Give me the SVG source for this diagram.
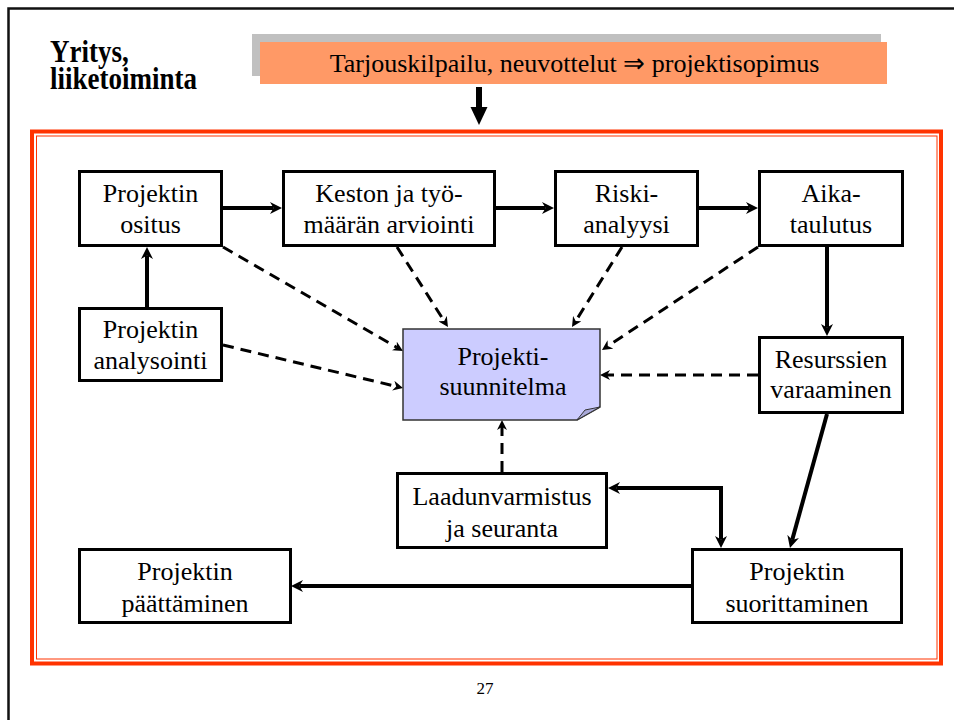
<svg xmlns="http://www.w3.org/2000/svg" width="954" height="720" viewBox="0 0 954 720">
  <style>
    .serif { font-family: "Liberation Serif", "Times New Roman", serif; }
    .box { fill: #ffffff; stroke: #000000; stroke-width: 3; }
    .lbl { font-family: "Liberation Serif", "Times New Roman", serif; font-size: 26px; fill: #000000; text-anchor: middle; }
    .solid { fill: none; stroke: #000000; stroke-width: 4; }
    .dash { fill: none; stroke: #000000; stroke-width: 3; stroke-dasharray: 11 7; }
  </style>
  <defs>
    <marker id="headSolid" viewBox="0 0 10 10" refX="3" refY="5" markerWidth="12" markerHeight="12" markerUnits="userSpaceOnUse" orient="auto-start-reverse">
      <path d="M0,0 L10,5 L0,10 L3,5 Z" fill="#000000"/>
    </marker>
    <marker id="headDash" viewBox="0 0 10 10" refX="3" refY="5" markerWidth="10" markerHeight="10" markerUnits="userSpaceOnUse" orient="auto">
      <path d="M0,0 L10,5 L0,10 L3,5 Z" fill="#000000"/>
    </marker>
  </defs>

  <rect width="954" height="720" fill="#ffffff"/>

  <!-- slide frame (top and left edges) -->
  <path d="M8.5,720 V8.5 H954" fill="none" stroke="#111111" stroke-width="2.5"/>

  <!-- heading, set in a slightly tall bold face -->
  <g id="heading">
    <text class="serif" transform="translate(50,62) scale(1,1.15)" font-weight="bold" font-size="27"><tspan x="0" y="0">Yritys,</tspan><tspan x="0" y="23.5">liiketoiminta</tspan></text>
  </g>

  <!-- contract banner -->
  <g id="banner">
    <rect x="252" y="34" width="629" height="42" fill="#c0c0c0"/>
    <rect x="260" y="42" width="627" height="42" fill="#ff9966"/>
    <text x="574.5" y="72" class="lbl" font-size="26.5">Tarjouskilpailu, neuvottelut ⇒ projektisopimus</text>
  </g>

  <!-- project frame: double red border -->
  <g id="frame">
    <rect x="32" y="131.5" width="909" height="532" fill="none" stroke="#ff3300" stroke-width="4"/>
    <rect x="36.5" y="136" width="900.5" height="523" fill="none" stroke="#ff3300" stroke-width="1"/>
  </g>

  <!-- connectors -->
  <g id="connectors">
    <!-- banner to frame -->
    <line x1="479" y1="87" x2="479" y2="108" stroke="#000000" stroke-width="6"/>
    <polygon points="470.5,107 487.5,107 479,125" fill="#000000"/>

    <!-- solid flow -->
    <line class="solid" x1="223" y1="208" x2="273.6" y2="208" marker-end="url(#headSolid)"/>
    <line class="solid" x1="496" y1="208" x2="545.6" y2="208" marker-end="url(#headSolid)"/>
    <line class="solid" x1="699" y1="208" x2="749.6" y2="208" marker-end="url(#headSolid)"/>
    <line class="solid" x1="147" y1="307" x2="147" y2="255.4" marker-end="url(#headSolid)"/>
    <line class="solid" x1="827" y1="247" x2="827" y2="327.6" marker-end="url(#headSolid)"/>
    <line class="solid" x1="827" y1="414" x2="792.2" y2="539.9" marker-end="url(#headSolid)"/>
    <line class="solid" x1="691" y1="586" x2="299.4" y2="586" marker-end="url(#headSolid)"/>
    <path class="solid" d="M616.4,488 H721 V539.6" marker-start="url(#headSolid)" marker-end="url(#headSolid)"/>

    <!-- dashed inputs to the plan -->
    <line class="dash" x1="223" y1="247" x2="396.9" y2="347.5" marker-end="url(#headDash)"/>
    <line class="dash" x1="397" y1="247" x2="444.2" y2="321.1" marker-end="url(#headDash)"/>
    <line class="dash" x1="223" y1="345" x2="396.2" y2="386.4" marker-end="url(#headDash)"/>
    <line class="dash" x1="622" y1="247" x2="575.7" y2="321.1" marker-end="url(#headDash)"/>
    <line class="dash" x1="758" y1="247" x2="607.8" y2="346.1" marker-end="url(#headDash)"/>
    <line class="dash" x1="758" y1="375" x2="607" y2="375" marker-end="url(#headDash)"/>
    <line class="dash" x1="502" y1="472" x2="502" y2="427" marker-end="url(#headDash)"/>
  </g>

  <!-- nodes -->
  <g id="ositus">
    <rect class="box" x="79.5" y="171.5" width="142" height="74"/>
    <text class="lbl" x="150.5" y="202">Projektin</text>
    <text class="lbl" x="150.5" y="233">ositus</text>
  </g>
  <g id="arviointi">
    <rect class="box" x="283.5" y="171.5" width="211" height="74"/>
    <text class="lbl" x="389" y="202">Keston ja työ-</text>
    <text class="lbl" x="389" y="233">määrän arviointi</text>
  </g>
  <g id="riskianalyysi">
    <rect class="box" x="555.5" y="171.5" width="142" height="74"/>
    <text class="lbl" x="626.5" y="202">Riski-</text>
    <text class="lbl" x="626.5" y="233">analyysi</text>
  </g>
  <g id="aikataulutus">
    <rect class="box" x="759.5" y="171.5" width="143" height="74"/>
    <text class="lbl" x="831" y="202">Aika-</text>
    <text class="lbl" x="831" y="233">taulutus</text>
  </g>
  <g id="analysointi">
    <rect class="box" x="79.5" y="308.5" width="142" height="72"/>
    <text class="lbl" x="150.5" y="338">Projektin</text>
    <text class="lbl" x="150.5" y="369">analysointi</text>
  </g>
  <g id="suunnitelma">
    <path d="M403,329 H600 V407 L577,420 H403 Z" fill="#ccccff" stroke="#333333" stroke-width="1.5"/>
    <path d="M577,420 L585,410 L600,407 Z" fill="#a8a8d8" stroke="#333333" stroke-width="1"/>
    <text class="lbl" x="503" y="365">Projekti-</text>
    <text class="lbl" x="503" y="395">suunnitelma</text>
  </g>
  <g id="resurssit">
    <rect class="box" x="759.5" y="337.5" width="143" height="75"/>
    <text class="lbl" x="831" y="368">Resurssien</text>
    <text class="lbl" x="831" y="398">varaaminen</text>
  </g>
  <g id="laadunvarmistus">
    <rect class="box" x="397.5" y="473.5" width="209" height="74"/>
    <text class="lbl" x="502" y="505">Laadunvarmistus</text>
    <text class="lbl" x="502" y="537">ja seuranta</text>
  </g>
  <g id="paattaminen">
    <rect class="box" x="79.5" y="549.5" width="211" height="73"/>
    <text class="lbl" x="185" y="580">Projektin</text>
    <text class="lbl" x="185" y="612">päättäminen</text>
  </g>
  <g id="suorittaminen">
    <rect class="box" x="692.5" y="549.5" width="209" height="73"/>
    <text class="lbl" x="797" y="580">Projektin</text>
    <text class="lbl" x="797" y="612">suorittaminen</text>
  </g>

  <!-- page number -->
  <text class="serif" x="485" y="694" font-size="17" text-anchor="middle" fill="#000000">27</text>
</svg>
